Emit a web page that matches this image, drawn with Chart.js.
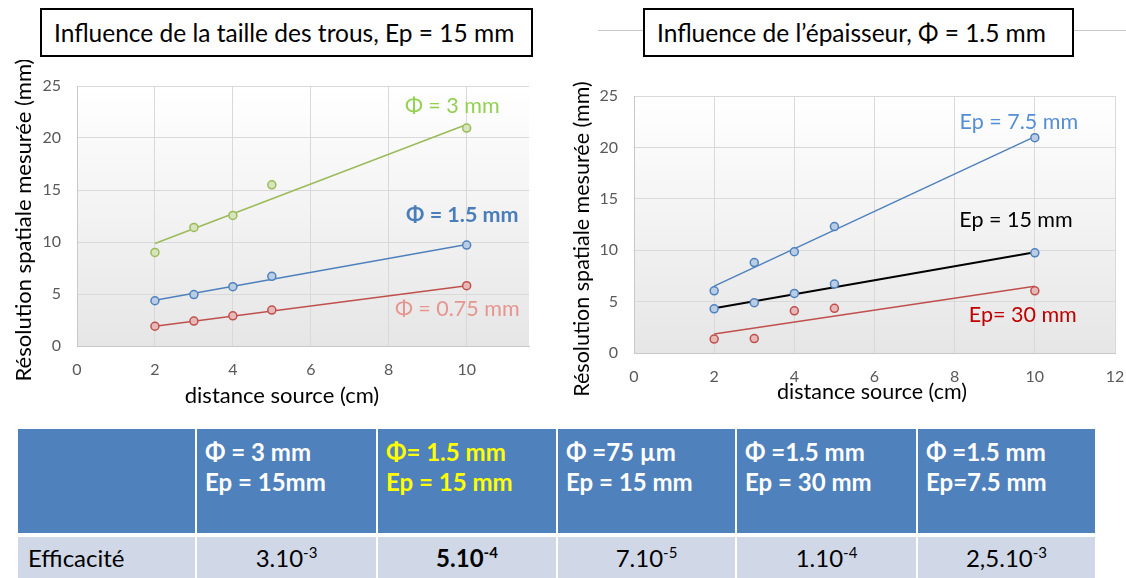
<!DOCTYPE html>
<html lang="fr">
<head>
<meta charset="utf-8">
<script src="https://cdn.jsdelivr.net/npm/chart.js@4.4.1/dist/chart.umd.min.js"></script>
<style>
  html, body { margin: 0; padding: 0; background: #fff; }
  body { width: 1126px; height: 578px; position: relative; overflow: hidden; font-family: Lato, "Open Sans", sans-serif; }
  .titre { position: absolute; top: 8px; height: 49px; box-sizing: border-box; border: 2px solid #000;
           font-size: 24.5px; line-height: 45px; padding-left: 12px; white-space: nowrap; color: #000; }
  .trait { position: absolute; top: 30px; height: 1px; background: #c8c8c8; }
  .graphe { position: absolute; top: 60px; height: 360px; }
  #tableau { position: absolute; left: 18px; top: 429px; display: grid;
             grid-template-columns: 177px 179px 178px 177px 179px 177px;
             grid-template-rows: 104px 50px; column-gap: 2px; row-gap: 4px; }
  #tableau .entete { background: #4f81bd; color: #fff; font-weight: bold; font-size: 24px;
                     line-height: 30px; padding: 8px 0 0 8px; white-space: nowrap; }
  #tableau .entete.jaune { color: #ffff00; }
  #tableau .corps { background: #d0d8e8; color: #000; font-size: 24px; line-height: 42px; text-align: center; white-space: nowrap; }
  #tableau .corps.premier { text-align: left; padding-left: 10px; }
  #tableau sup { font-size: 15px; vertical-align: 9px; line-height: 0; }
</style>
</head>
<body>
<div class="titre" style="left:40px;width:493px;">Influence de la taille des trous, Ep = 15 mm</div>
<div class="trait" style="left:598px;width:45px;"></div>
<div class="titre" style="left:643px;width:431px;">Influence de l’épaisseur, Φ = 1.5 mm</div>
<div class="trait" style="left:1074px;width:52px;"></div>

<div class="graphe" style="left:0;width:560px;"><canvas id="grapheTrous"></canvas></div>
<div class="graphe" style="left:560px;width:566px;"><canvas id="grapheEpaisseur"></canvas></div>

<div id="tableau"></div>

<script>
// distances source (cm) communes aux deux graphes
const distances = [2, 3, 4, 5, 10];
const bornesTendance = [2, 10];
const ticksY = [0, 5, 10, 15, 20, 25];

// Influence de la taille des trous (Ep = 15 mm)
const phi3 = [9.0, 11.4, 12.55, 15.5, 20.95];
const phi15 = [4.35, 4.95, 5.7, 6.7, 9.7];
const phi075 = [1.9, 2.4, 2.9, 3.45, 5.8];
const tendancePhi3 = [9.85, 21.3];
const tendancePhi15 = [4.4, 9.75];
const tendancePhi075 = [1.9, 5.8];

// Influence de l'épaisseur (Phi = 1.5 mm)
const ep75 = [6.05, 8.8, 9.85, 12.3, 20.95];
const ep15 = [4.3, 4.9, 5.8, 6.7, 9.75];
const ep30 = [1.35, 1.4, 4.1, 4.35, 6.05];
const tendanceEp75 = [6.5, 21.05];
const tendanceEp15 = [4.35, 9.8];
const tendanceEp30 = [1.85, 6.5];

// tableau des efficacités
const colonnesPhi = ['Φ = 3 mm', 'Φ= 1.5 mm', 'Φ =75 µm', 'Φ =1.5 mm', 'Φ =1.5 mm'];
const colonnesEp = ['Ep = 15mm', 'Ep = 15 mm', 'Ep = 15 mm', 'Ep = 30 mm', 'Ep=7.5 mm'];
const efficaciteBase = ['3.10', '5.10', '7.10', '1.10', '2,5.10'];
const efficaciteExposant = ['-3', '-4', '-5', '-4', '-3'];
const colonneSurlignee = 1;

const police = 'Lato, "Open Sans", sans-serif';

function enPoints(xs, ys) {
    return xs.map((x, i) => ({ x: x, y: ys[i] }));
}

function serie(ys, bord, fond) {
    return {
        data: enPoints(distances, ys),
        showLine: false,
        pointRadius: 4,
        pointBorderWidth: 1.5,
        pointBorderColor: bord,
        pointBackgroundColor: fond,
        order: 0
    };
}

function tendance(ys, couleur, epaisseur) {
    return {
        data: enPoints(bornesTendance, ys),
        showLine: true,
        borderColor: couleur,
        borderWidth: epaisseur || 1.5,
        pointRadius: 0,
        order: 1
    };
}

// fond dégradé de la zone de tracé
const fondDegrade = {
    id: 'fondDegrade',
    beforeDraw(chart) {
        const { ctx, chartArea: a } = chart;
        const g = ctx.createLinearGradient(0, a.top, 0, a.bottom);
        g.addColorStop(0, '#ffffff');
        g.addColorStop(1, '#e6e6e6');
        ctx.save();
        ctx.fillStyle = g;
        ctx.fillRect(a.left, a.top, a.right - a.left, a.bottom - a.top);
        ctx.restore();
    }
};

// étiquettes des séries et titres des axes
const etiquettes = {
    id: 'etiquettes',
    afterDraw(chart, args, opts) {
        const { ctx, scales } = chart;
        ctx.save();
        ctx.textAlign = 'center';
        ctx.textBaseline = 'middle';
        opts.series.forEach(e => {
            ctx.font = (e.gras ? 'bold ' : '') + '21.5px ' + police;
            ctx.fillStyle = e.couleur;
            ctx.fillText(e.texte, scales.x.getPixelForValue(e.x), scales.y.getPixelForValue(e.y));
        });
        ctx.font = opts.taille + 'px ' + police;
        ctx.fillStyle = '#000';
        ctx.fillText('distance source (cm)', opts.titreX.x, opts.titreX.y);
        ctx.translate(opts.titreY.x, opts.titreY.y);
        ctx.rotate(-Math.PI / 2);
        ctx.fillText('Résolution spatiale mesurée (mm)', 0, 0);
        ctx.restore();
    }
};

function options(cfg) {
    return {
        responsive: true,
        maintainAspectRatio: false,
        animation: false,
        layout: { padding: { top: cfg.haut, right: cfg.droite, left: 0, bottom: 0 } },
        plugins: {
            legend: { display: false },
            tooltip: { enabled: false },
            etiquettes: cfg.etiquettes
        },
        scales: {
            x: {
                type: 'linear',
                min: 0,
                max: cfg.maxX,
                afterBuildTicks: s => { s.ticks = s.ticks.filter(t => t.value % 2 === 0); },
                afterFit: s => { s.height = cfg.hauteurX; s.paddingLeft = 0; s.paddingRight = 0; },
                ticks: { stepSize: 2, padding: 14, color: '#595959', font: { family: police, size: 16 } },
                grid: { color: '#d9d9d9', drawTicks: false },
                border: { color: '#c8c8c8' }
            },
            y: {
                min: 0,
                max: 25,
                afterBuildTicks: s => { s.ticks = ticksY.map(v => ({ value: v })); },
                afterFit: s => { s.width = cfg.largeurY; },
                ticks: { padding: 16, color: '#595959', font: { family: police, size: 16 } },
                grid: { color: '#d9d9d9', drawTicks: false },
                border: { color: '#c8c8c8' }
            }
        }
    };
}

new Chart(document.getElementById('grapheTrous'), {
    type: 'scatter',
    data: {
        datasets: [
            serie(phi3, '#9bbb59', '#d7e4bd'),
            serie(phi15, '#4f81bd', '#b9cde5'),
            serie(phi075, '#c0504d', '#e6b9b8'),
            tendance(tendancePhi3, '#9bbb59'),
            tendance(tendancePhi15, '#4f81bd'),
            tendance(tendancePhi075, '#c0504d')
        ]
    },
    options: options({
        haut: 26, droite: 31, maxX: 11.6, hauteurX: 74, largeurY: 77,
        etiquettes: {
            series: [
                { texte: 'Φ = 3 mm', x: 9.63, y: 23.1, couleur: '#92d050' },
                { texte: 'Φ = 1.5 mm', x: 9.89, y: 12.6, couleur: '#4a7ebb', gras: true },
                { texte: 'Φ = 0.75 mm', x: 9.76, y: 3.56, couleur: '#e6958f' }
            ],
            taille: 22,
            titreX: { x: 282, y: 336 },
            titreY: { x: 24, y: 160 }
        }
    }),
    plugins: [fondDegrade, etiquettes]
});

new Chart(document.getElementById('grapheEpaisseur'), {
    type: 'scatter',
    data: {
        datasets: [
            serie(ep75, '#4f81bd', '#b9cde5'),
            serie(ep15, '#4f81bd', '#b9cde5'),
            serie(ep30, '#c0504d', '#e6b9b8'),
            tendance(tendanceEp75, '#4f81bd'),
            tendance(tendanceEp15, '#000000', 2),
            tendance(tendanceEp30, '#c0504d')
        ]
    },
    options: options({
        haut: 36, droite: 11, maxX: 12, hauteurX: 67, largeurY: 74,
        etiquettes: {
            series: [
                { texte: 'Ep = 7.5 mm', x: 9.6, y: 22.5, couleur: '#558ed5' },
                { texte: 'Ep = 15 mm', x: 9.53, y: 12.9, couleur: '#000000' },
                { texte: 'Ep= 30 mm', x: 9.7, y: 3.67, couleur: '#c00000' }
            ],
            taille: 21.5,
            titreX: { x: 312, y: 332 },
            titreY: { x: 22, y: 179 }
        }
    }),
    plugins: [fondDegrade, etiquettes]
});

// construction du tableau
const tableau = document.getElementById('tableau');
function cellule(classe, html) {
    const d = document.createElement('div');
    d.className = classe;
    d.innerHTML = html;
    tableau.appendChild(d);
}
cellule('entete', '');
colonnesPhi.forEach((phi, i) => {
    cellule('entete' + (i === colonneSurlignee ? ' jaune' : ''), phi + '<br>' + colonnesEp[i]);
});
cellule('corps premier', 'Efficacité');
efficaciteBase.forEach((base, i) => {
    const txt = base + '<sup>' + efficaciteExposant[i] + '</sup>';
    cellule('corps', i === colonneSurlignee ? '<b>' + txt + '</b>' : txt);
});
</script>
</body>
</html>
